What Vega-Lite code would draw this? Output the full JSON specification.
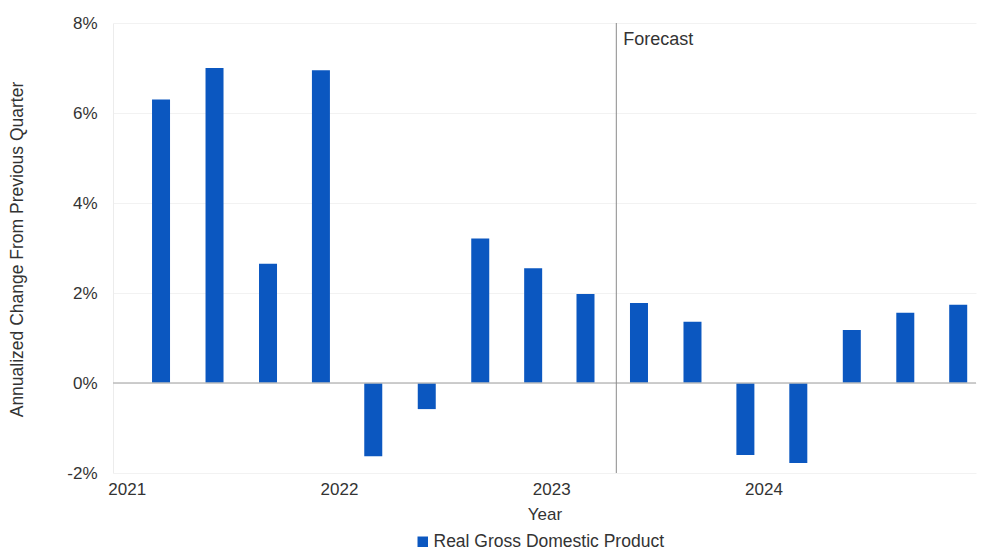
{
  "$schema": "https://vega.github.io/schema/vega-lite/v6.json",
  "autosize": "none",
  "width": 863,
  "height": 450,
  "padding": {"left": 113, "top": 23, "right": 14, "bottom": 79},
  "background": "white",
  "config": {
    "view": {"stroke": null},
    "font": "Liberation Sans",
    "axis": {"labelFont": "Liberation Sans", "titleFont": "Liberation Sans"}
  },
  "datasets": {
    "gdp": [
      {"date": "2021-03-01", "value": 6.3, "series": "Real Gross Domestic Product"},
      {"date": "2021-06-01", "value": 7.0, "series": "Real Gross Domestic Product"},
      {"date": "2021-09-01", "value": 2.65, "series": "Real Gross Domestic Product"},
      {"date": "2021-12-01", "value": 6.95, "series": "Real Gross Domestic Product"},
      {"date": "2022-03-01", "value": -1.63, "series": "Real Gross Domestic Product"},
      {"date": "2022-06-01", "value": -0.58, "series": "Real Gross Domestic Product"},
      {"date": "2022-09-01", "value": 3.21, "series": "Real Gross Domestic Product"},
      {"date": "2022-12-01", "value": 2.55, "series": "Real Gross Domestic Product"},
      {"date": "2023-03-01", "value": 1.98, "series": "Real Gross Domestic Product"},
      {"date": "2023-06-01", "value": 1.78, "series": "Real Gross Domestic Product"},
      {"date": "2023-09-01", "value": 1.36, "series": "Real Gross Domestic Product"},
      {"date": "2023-12-01", "value": -1.6, "series": "Real Gross Domestic Product"},
      {"date": "2024-03-01", "value": -1.78, "series": "Real Gross Domestic Product"},
      {"date": "2024-06-01", "value": 1.18, "series": "Real Gross Domestic Product"},
      {"date": "2024-09-01", "value": 1.56, "series": "Real Gross Domestic Product"},
      {"date": "2024-12-01", "value": 1.74, "series": "Real Gross Domestic Product"}
    ],
    "forecast": [
      {"date": "2023-04-23", "label": "Forecast", "top": 8}
    ],
    "zero": [{"value": 0}]
  },
  "layer": [
    {
      "data": {"name": "gdp"},
      "mark": {"type": "bar", "width": 18},
      "encoding": {
        "x": {
          "field": "date",
          "type": "temporal",
          "scale": {"domain": [{"year": 2020, "month": 12, "date": 17}, {"year": 2024, "month": 12, "date": 23}]},
          "axis": {
            "values": [{"year": 2021, "month": 1, "date": 1}, {"year": 2022, "month": 1, "date": 1}, {"year": 2023, "month": 1, "date": 1}, {"year": 2024, "month": 1, "date": 1}],
            "format": "%Y",
            "title": "Year",
            "grid": false,
            "domain": false,
            "ticks": false,
            "labelFontSize": 17,
            "labelColor": "#333333",
            "labelPadding": 8,
            "titleFontSize": 17,
            "titleFontWeight": "normal",
            "titleColor": "#333333",
            "titleY": 41,
            "titleBaseline": "middle"
          }
        },
        "y": {
          "field": "value",
          "type": "quantitative",
          "scale": {"domain": [-2, 8], "nice": false},
          "axis": {
            "values": [-2, 0, 2, 4, 6, 8],
            "labelExpr": "datum.value + '%'",
            "title": "Annualized Change From Previous Quarter",
            "grid": true,
            "gridColor": "#f2f2f2",
            "domainColor": "#ececec",
            "ticks": false,
            "labelFontSize": 17,
            "labelColor": "#333333",
            "labelPadding": 16,
            "titleFontSize": 17.5,
            "titleFontWeight": "normal",
            "titleColor": "#333333",
            "titleAngle": -90,
            "titleX": -96,
            "titleY": 226,
            "titleAlign": "center",
            "titleBaseline": "middle"
          }
        },
        "color": {
          "field": "series",
          "type": "nominal",
          "scale": {"range": ["#0b57c0"]},
          "legend": {
            "title": null,
            "orient": "none",
            "legendX": 301,
            "legendY": 510,
            "symbolType": "square",
            "symbolSize": 110,
            "symbolOpacity": 1,
            "labelFontSize": 17.5,
            "labelLimit": 0,
            "labelColor": "#333333",
            "labelFont": "Liberation Sans",
            "labelOffset": 2
          }
        }
      }
    },
    {
      "data": {"name": "zero"},
      "mark": {"type": "rule", "color": "#bdbdbd", "strokeWidth": 1.5},
      "encoding": {"y": {"field": "value", "type": "quantitative"}}
    },
    {
      "data": {"name": "forecast"},
      "mark": {"type": "rule", "color": "#8a8a8a", "strokeWidth": 1},
      "encoding": {"x": {"field": "date", "type": "temporal"}}
    },
    {
      "data": {"name": "forecast"},
      "mark": {"type": "text", "align": "left", "baseline": "top", "dx": 7, "dy": 8, "fontSize": 18, "color": "#333333", "font": "Liberation Sans"},
      "encoding": {
        "x": {"field": "date", "type": "temporal"},
        "y": {"field": "top", "type": "quantitative"},
        "text": {"field": "label"}
      }
    }
  ]
}
